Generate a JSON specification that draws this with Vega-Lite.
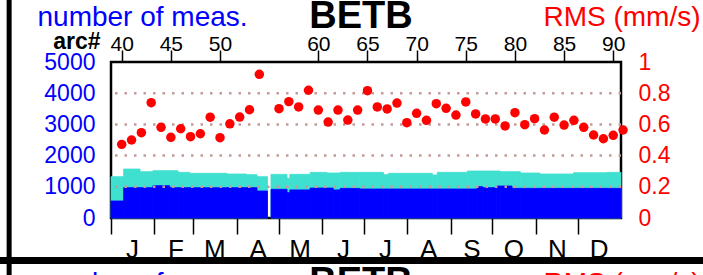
{
  "$schema": "https://vega.github.io/schema/vega-lite/v6.json",
  "width": 510,
  "height": 156,
  "autosize": {"type": "none"},
  "padding": {"left": 111, "top": 62, "right": 82, "bottom": 57},
  "background": "white",
  "config": {
    "font": "Liberation Sans",
    "view": {"stroke": "black", "strokeWidth": 2.5},
    "axis": {"grid": false, "domain": false}
  },
  "datasets": {
    "counts": [
      {"start": 0, "end": 9, "total": 1325, "blue": 545},
      {"start": 9, "end": 20.8, "total": 1570, "blue": 972},
      {"start": 20.8, "end": 30, "total": 1485, "blue": 972},
      {"start": 30, "end": 42, "total": 1517, "blue": 1036},
      {"start": 42, "end": 48, "total": 1517, "blue": 972},
      {"start": 48, "end": 56.5, "total": 1463, "blue": 972},
      {"start": 56.5, "end": 83, "total": 1432, "blue": 972},
      {"start": 83, "end": 97, "total": 1410, "blue": 972},
      {"start": 97, "end": 104.5, "total": 1389, "blue": 972},
      {"start": 104.5, "end": 112, "total": 1325, "blue": 865},
      {"start": 114.5, "end": 126, "total": 1400, "blue": 919},
      {"start": 126, "end": 128, "total": 1272, "blue": 812},
      {"start": 128, "end": 142.5, "total": 1400, "blue": 900},
      {"start": 142.5, "end": 154.5, "total": 1463, "blue": 960},
      {"start": 154.5, "end": 159, "total": 1442, "blue": 960},
      {"start": 159, "end": 164, "total": 1442, "blue": 900},
      {"start": 164, "end": 178, "total": 1463, "blue": 950},
      {"start": 178, "end": 195, "total": 1463, "blue": 929},
      {"start": 195, "end": 198.5, "total": 1389, "blue": 929},
      {"start": 198.5, "end": 230, "total": 1432, "blue": 929},
      {"start": 230, "end": 233.5, "total": 1378, "blue": 929},
      {"start": 233.5, "end": 255, "total": 1463, "blue": 929},
      {"start": 255, "end": 262, "total": 1506, "blue": 929},
      {"start": 262, "end": 266, "total": 1506, "blue": 1004},
      {"start": 266, "end": 276, "total": 1506, "blue": 972},
      {"start": 276, "end": 278.5, "total": 1506, "blue": 1025},
      {"start": 278.5, "end": 287, "total": 1485, "blue": 1025},
      {"start": 287, "end": 293, "total": 1485, "blue": 951},
      {"start": 293, "end": 307, "total": 1442, "blue": 951},
      {"start": 307, "end": 331, "total": 1410, "blue": 951},
      {"start": 331, "end": 355, "total": 1453, "blue": 951},
      {"start": 355, "end": 365, "total": 1463, "blue": 951}
    ],
    "grid": [{"v": 1000}, {"v": 2000}, {"v": 3000}, {"v": 4000}],
    "rms": [
      {"arc": 40, "rms": 0.472}, {"arc": 41, "rms": 0.5}, {"arc": 42, "rms": 0.547}, {"arc": 43, "rms": 0.739},
      {"arc": 44, "rms": 0.581}, {"arc": 45, "rms": 0.517}, {"arc": 46, "rms": 0.572}, {"arc": 47, "rms": 0.521},
      {"arc": 48, "rms": 0.54}, {"arc": 49, "rms": 0.646}, {"arc": 50, "rms": 0.515}, {"arc": 51, "rms": 0.604},
      {"arc": 52, "rms": 0.647}, {"arc": 53, "rms": 0.694}, {"arc": 54, "rms": 0.921},
      {"arc": 56, "rms": 0.701}, {"arc": 57, "rms": 0.746}, {"arc": 58, "rms": 0.712}, {"arc": 59, "rms": 0.819},
      {"arc": 60, "rms": 0.692}, {"arc": 61, "rms": 0.615}, {"arc": 62, "rms": 0.692}, {"arc": 63, "rms": 0.628},
      {"arc": 64, "rms": 0.692}, {"arc": 65, "rms": 0.816}, {"arc": 66, "rms": 0.712}, {"arc": 67, "rms": 0.699},
      {"arc": 68, "rms": 0.737}, {"arc": 69, "rms": 0.611}, {"arc": 70, "rms": 0.671}, {"arc": 71, "rms": 0.626},
      {"arc": 72, "rms": 0.733}, {"arc": 73, "rms": 0.703}, {"arc": 74, "rms": 0.66}, {"arc": 75, "rms": 0.744},
      {"arc": 76, "rms": 0.667}, {"arc": 77, "rms": 0.635}, {"arc": 78, "rms": 0.635}, {"arc": 79, "rms": 0.59},
      {"arc": 80, "rms": 0.675}, {"arc": 81, "rms": 0.598}, {"arc": 82, "rms": 0.637}, {"arc": 83, "rms": 0.564},
      {"arc": 84, "rms": 0.646}, {"arc": 85, "rms": 0.596}, {"arc": 86, "rms": 0.626}, {"arc": 87, "rms": 0.581},
      {"arc": 88, "rms": 0.532}, {"arc": 89, "rms": 0.508}, {"arc": 90, "rms": 0.53}, {"arc": 91, "rms": 0.564}
    ]
  },
  "layer": [
    {
      "data": {"name": "counts"},
      "mark": {"type": "rect", "color": "#40e0d0", "stroke": "#40e0d0", "strokeWidth": 0.8},
      "encoding": {
        "x": {
          "field": "start", "type": "quantitative",
          "scale": {"domain": [0, 365], "nice": false, "zero": false},
          "axis": {
            "orient": "bottom",
            "values": [0, 31, 59, 90, 120, 151, 181, 212, 243, 273, 304, 334],
            "labelExpr": "['J','F','M','A','M','J','J','A','S','O','N','D'][indexof([0,31,59,90,120,151,181,212,243,273,304,334], datum.value)]",
            "labelOffset": 21, "tickSize": 16, "tickWidth": 1.5, "tickColor": "black",
            "labelFontSize": 26, "labelColor": "black", "labelPadding": 2,
            "labelFlush": false, "labelOverlap": false, "labelBound": false,
            "domain": false, "grid": false, "title": null
          }
        },
        "x2": {"field": "end"},
        "y": {
          "field": "total", "type": "quantitative",
          "scale": {"domain": [0, 5000], "nice": false},
          "axis": {
            "orient": "left", "values": [0, 1000, 2000, 3000, 4000, 5000], "format": "d",
            "labelFontSize": 23, "labelColor": "#0000ff", "ticks": false, "labelPadding": 16,
            "domain": false, "grid": false, "labelFlush": false,
            "title": "number of meas.", "titleAngle": 0, "titleX": -74, "titleY": -37,
            "titleAlign": "left", "titleBaseline": "alphabetic", "titleFontSize": 28,
            "titleFontWeight": "normal", "titleColor": "#0000ff"
          }
        },
        "y2": {"datum": 0}
      }
    },
    {
      "data": {"name": "counts"},
      "mark": {"type": "rect", "color": "#0000ff", "stroke": "#0000ff", "strokeWidth": 0.8},
      "encoding": {
        "x": {
          "field": "start", "type": "quantitative", "scale": {"domain": [0, 365], "nice": false, "zero": false},
          "axis": {
            "orient": "bottom", "labels": false, "ticks": false, "domain": false, "grid": false,
            "title": "BETB", "titleX": 249.5, "titleY": 75.5, "titleAlign": "center", "titleBaseline": "alphabetic",
            "titleFontSize": 38, "titleFontWeight": "bold", "titleColor": "black"
          }
        },
        "x2": {"field": "end"},
        "y": {
          "field": "blue", "type": "quantitative", "scale": {"domain": [0, 5000], "nice": false},
          "axis": {
            "orient": "left", "labels": false, "ticks": false, "domain": false, "grid": false,
            "title": "number of meas.", "titleAngle": 0, "titleX": -74, "titleY": 229.5,
            "titleAlign": "left", "titleBaseline": "alphabetic", "titleFontSize": 28,
            "titleFontWeight": "normal", "titleColor": "#0000ff"
          }
        },
        "y2": {"datum": 0}
      }
    },
    {
      "data": {"name": "grid"},
      "mark": {"type": "rule", "color": "#c49a9a", "strokeWidth": 2.5, "strokeDash": [2.5, 7]},
      "encoding": {
        "y": {
          "field": "v", "type": "quantitative", "scale": {"domain": [0, 5000], "nice": false},
          "axis": {
            "orient": "right", "labels": false, "ticks": false, "domain": false, "grid": false,
            "title": "RMS (mm/s)", "titleAngle": 0, "titleX": 79, "titleY": 229.5,
            "titleAlign": "right", "titleBaseline": "alphabetic", "titleFontSize": 28,
            "titleFontWeight": "normal", "titleColor": "#ff0000"
          }
        }
      }
    },
    {
      "data": {"values": [{}]},
      "mark": {"type": "rule", "color": "black", "strokeWidth": 5, "clip": false},
      "encoding": {
        "x": {"datum": -72.9, "type": "quantitative", "scale": {"domain": [0, 365], "nice": false, "zero": false}, "axis": null},
        "y": {
          "datum": 6987, "type": "quantitative", "scale": {"domain": [0, 5000], "nice": false},
          "axis": {
            "orient": "left", "labels": false, "ticks": false, "domain": false, "grid": false,
            "title": "BETB", "titleAngle": 0, "titleX": 249.5, "titleY": -35,
            "titleAlign": "center", "titleBaseline": "alphabetic", "titleFontSize": 38,
            "titleFontWeight": "bold", "titleColor": "black"
          }
        },
        "y2": {"datum": -2000}
      }
    },
    {
      "data": {"values": [{}]},
      "mark": {"type": "rule", "color": "black", "strokeWidth": 7, "clip": false},
      "encoding": {
        "x": {"datum": -80, "type": "quantitative", "scale": {"domain": [0, 365], "nice": false, "zero": false}, "axis": null},
        "x2": {"datum": 425},
        "y": {"datum": -1362, "type": "quantitative", "scale": {"domain": [0, 5000], "nice": false}, "axis": null}
      }
    },
    {
      "data": {"name": "rms"},
      "mark": {"type": "circle", "color": "#ff0000", "size": 90, "opacity": 1},
      "encoding": {
        "x": {
          "field": "arc", "type": "quantitative",
          "scale": {"domain": [38.91, 90.79], "nice": false, "zero": false},
          "axis": {
            "orient": "top", "values": [40, 45, 50, 60, 65, 70, 75, 80, 85, 90], "format": "d",
            "labelFontSize": 21, "labelColor": "black", "tickSize": 12, "tickWidth": 1.5, "tickColor": "black",
            "labelPadding": 0, "labelBaseline": "alphabetic", "domain": false, "grid": false,
            "labelFlush": false, "labelOverlap": false,
            "title": "arc#", "titleX": -11, "titleY": -14, "titleAlign": "right", "titleBaseline": "alphabetic",
            "titleFontSize": 23, "titleFontWeight": "bold", "titleColor": "black"
          }
        },
        "y": {
          "field": "rms", "type": "quantitative",
          "scale": {"domain": [0, 1], "nice": false},
          "axis": {
            "orient": "right", "values": [0, 0.2, 0.4, 0.6, 0.8, 1], "format": "~g",
            "labelFontSize": 23, "labelColor": "#ff0000", "ticks": false, "labelPadding": 17,
            "domain": false, "grid": false, "labelFlush": false,
            "title": "RMS (mm/s)", "titleAngle": 0, "titleX": 79, "titleY": -37,
            "titleAlign": "right", "titleBaseline": "alphabetic", "titleFontSize": 28,
            "titleFontWeight": "normal", "titleColor": "#ff0000"
          }
        }
      }
    }
  ],
  "resolve": {"scale": {"x": "independent", "y": "independent"}}
}
